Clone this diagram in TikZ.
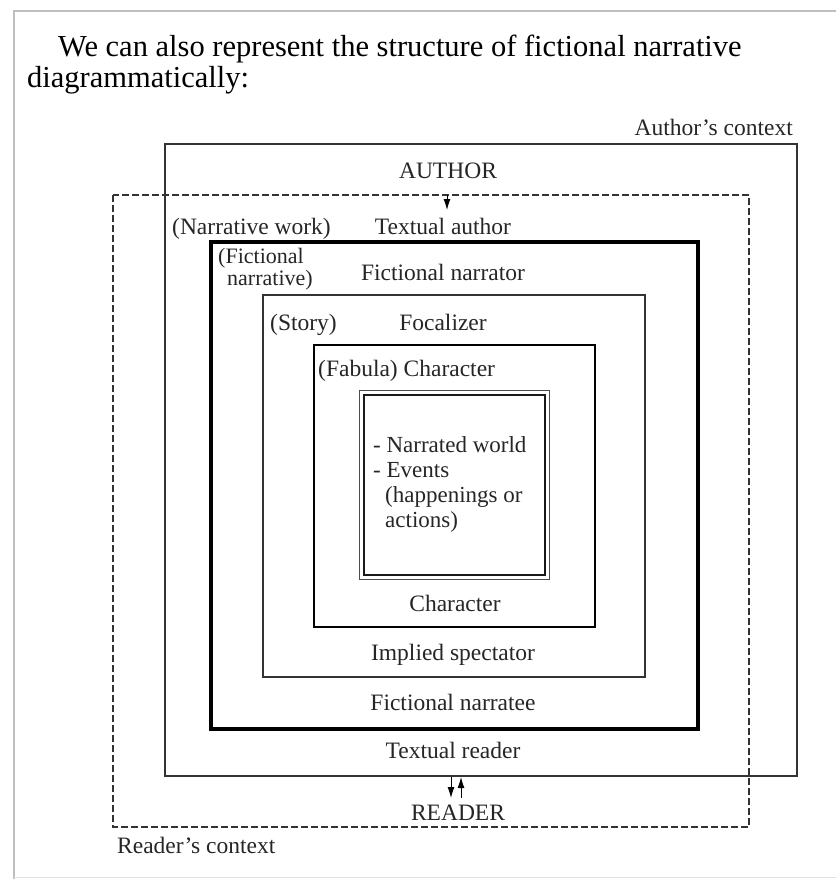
\documentclass[tikz,border=0pt]{standalone}
\usepackage{fontspec}
\setmainfont{Liberation Serif}
\usetikzlibrary{arrows.meta}
\begin{document}
\begin{tikzpicture}[x=1pt,y=-1pt,
  lbl/.style={inner sep=0pt,font=\fontsize{23.5}{26}\selectfont,text=black!85},
  thinbox/.style={draw=black!80,line width=1.2pt},
  medbox/.style={draw=black,line width=2.4pt},
  thickbox/.style={draw=black,line width=4pt},
  dashbox/.style={draw=black!80,line width=1.3pt,dash pattern=on 7pt off 3pt},
  arr/.style={-{Latex[length=11pt,width=7pt]},line width=1pt}]
\useasboundingbox (0,0) rectangle (836,879);
\fill[white] (0,0) rectangle (836,879);
% page frame
\draw[black!25,line width=2pt] (14,879) -- (14,11) -- (836,11);
\draw[black!12,line width=1pt] (14,877) -- (836,877);
% header
\node[anchor=base west,inner sep=0pt,font=\fontsize{30.5}{33}\selectfont] (h1) at (58,56) {We can also represent the structure of fictional narrative};
\node[anchor=base west,inner sep=0pt,font=\fontsize{30.5}{33}\selectfont] (h2) at (27,87) {diagrammatically:};
% boxes
\draw[thinbox] (165,144) rectangle (797,776);
\draw[dashbox] (113,195) rectangle (749,827);
\draw[thickbox] (211,242) rectangle (698,729);
\draw[thinbox] (263,295) rectangle (645,677);
\draw[medbox] (314,345) rectangle (595,627);
\draw[black!70,line width=1pt] (359,390) rectangle (549,579);
\draw[black!90,line width=1.3pt] (364,395) rectangle (545,575);
% labels
\node[lbl,anchor=base east] (actx) at (793,135) {Author's context};
\node[lbl,anchor=base] (author) at (448,178) {AUTHOR};
\node[lbl,anchor=base west] (nw) at (172,234) {(Narrative work)};
\node[lbl,anchor=base] (tauthor) at (443,234) {Textual author};
\node[lbl,anchor=north west,align=left,font=\fontsize{22}{22.5}\selectfont] (fn) at (218,248) {(Fictional\\\hspace*{9pt}narrative)};
\node[lbl,anchor=base] (fnarr) at (443,280) {Fictional narrator};
\node[lbl,anchor=base west] (story) at (270,330) {(Story)};
\node[lbl,anchor=base] (foc) at (443,330) {Focalizer};
\node[lbl,anchor=base west] (fab) at (318,376) {(Fabula) Character};
\node[lbl,anchor=north west,align=left,font=\fontsize{23}{25}\selectfont] (world) at (373,436) {- Narrated world\\- Events\\\hspace*{12pt}(happenings or\\\hspace*{12pt}actions)};
\node[lbl,anchor=base] (char) at (455,611) {Character};
\node[lbl,anchor=base] (spect) at (453,660) {Implied spectator};
\node[lbl,anchor=base] (narratee) at (453,710) {Fictional narratee};
\node[lbl,anchor=base] (treader) at (453,758) {Textual reader};
\node[lbl,anchor=base] (reader) at (458,820) {READER};
\node[lbl,anchor=base west] (rctx) at (117,853) {Reader's context};
% arrows
\coordinate (a1s) at (447,195);
\coordinate (a1e) at (447,210);
\draw[arr] (a1s) -- (a1e);
\coordinate (a2s) at (451,777);
\coordinate (a2e) at (451,798);
\draw[arr] (a2s) -- (a2e);
\coordinate (a3s) at (461,798);
\coordinate (a3e) at (461,777);
\draw[arr] (a3s) -- (a3e);
\end{tikzpicture}
\end{document}
